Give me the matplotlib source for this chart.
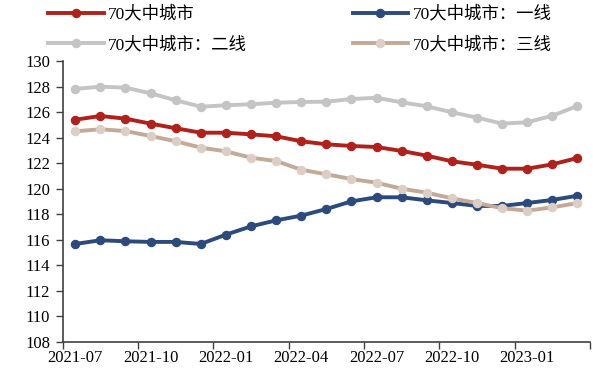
import matplotlib
matplotlib.use("Agg")
import matplotlib.pyplot as plt
from matplotlib.ticker import FixedLocator, NullFormatter

plt.rcParams['font.family'] = ['Liberation Serif', 'Noto Sans CJK SC']
plt.rcParams['font.size'] = 12

months = ['2021-07', '2021-08', '2021-09', '2021-10', '2021-11', '2021-12',
          '2022-01', '2022-02', '2022-03', '2022-04', '2022-05', '2022-06',
          '2022-07', '2022-08', '2022-09', '2022-10', '2022-11', '2022-12',
          '2023-01', '2023-02', '2023-03']

# 70大中城市 (total), tier 1, tier 2, tier 3
total = [125.40, 125.69, 125.48, 125.09, 124.73, 124.38, 124.38, 124.25, 124.10, 123.71,
         123.47, 123.34, 123.26, 122.95, 122.58, 122.14, 121.87, 121.56, 121.56, 121.90, 122.40]
tier1 = [115.66, 115.95, 115.87, 115.82, 115.82, 115.66, 116.39, 117.04, 117.51, 117.88,
         118.40, 119.00, 119.32, 119.32, 119.08, 118.87, 118.64, 118.64, 118.87, 119.11, 119.44]
tier2 = [127.81, 127.99, 127.91, 127.47, 126.92, 126.42, 126.53, 126.61, 126.73, 126.79,
         126.81, 127.02, 127.12, 126.76, 126.45, 125.98, 125.56, 125.09, 125.20, 125.71, 126.47]
tier3 = [124.49, 124.65, 124.51, 124.12, 123.71, 123.21, 122.92, 122.42, 122.16, 121.48,
         121.12, 120.75, 120.46, 119.99, 119.68, 119.24, 118.87, 118.46, 118.27, 118.53, 118.87]

labels = ['70大中城市', '70大中城市：一线', '70大中城市：二线', '70大中城市：三线']

W, H = 593, 373
fig = plt.figure(figsize=(W / 100, H / 100), dpi=100)
ax = fig.add_axes([62.7 / W, 1 - 341.7 / H, (590 - 62.7) / W, (341.7 - 61) / H])

x = list(range(len(months)))
lw, ms = 2.8, 5.8
l_total, = ax.plot(x, total, color='#B0211C', lw=lw, marker='o', ms=ms, label=labels[0])
l_t1, = ax.plot(x, tier1, color='#2C4A7C', lw=lw, marker='o', ms=ms, label=labels[1])
l_t2, = ax.plot(x, tier2, color='#C4C4C4', lw=lw, marker='o', ms=ms, label=labels[2])
l_t3, = ax.plot(x, tier3, color='#C3AA98', lw=lw, marker='o', ms=ms,
                markerfacecolor='#DCCEC4', markeredgecolor='#DCCEC4', label=labels[3])

ax.set_ylim(108, 130)
ax.set_yticks(range(108, 131, 2))
ax.set_xlim(-0.5, len(months) - 0.5)

# tick marks sit between categories, labels under every third month
ax.xaxis.set_major_locator(FixedLocator([i - 0.5 for i in range(0, len(months) + 1, 3)]))
ax.xaxis.set_major_formatter(NullFormatter())
ax.xaxis.set_minor_locator(FixedLocator(list(range(0, len(months), 3))))
ax.set_xticklabels([months[i] for i in range(0, len(months), 3)], minor=True)
ax.tick_params(axis='x', which='minor', length=0, pad=6)
ax.tick_params(axis='x', which='major', length=5, width=1, color='#404040')
ax.tick_params(axis='y', length=5, width=1, color='#404040', pad=4)

for s in ['top', 'right']:
    ax.spines[s].set_visible(False)
for s in ['left', 'bottom']:
    ax.spines[s].set_color('#404040')
    ax.spines[s].set_linewidth(1.2)

fig.legend([l_total, l_t2, l_t1, l_t3], [labels[0], labels[2], labels[1], labels[3]],
           ncol=2, loc='upper left', bbox_to_anchor=(48 / W, 1 - 6 / H),
           frameon=False, borderpad=0, borderaxespad=0, handlelength=3.2,
           handletextpad=0.25, labelspacing=0.78, columnspacing=6.1,
           prop={'size': 12.5})

fig.savefig('out.png', dpi=100)
